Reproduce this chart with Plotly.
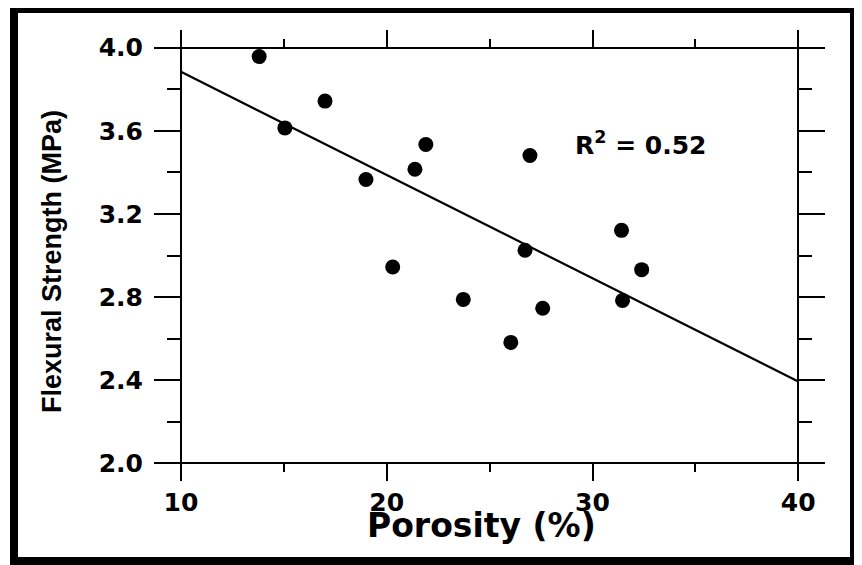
import plotly.graph_objects as go

# ---- data ----
porosity = [13.80, 15.05, 17.00, 18.99, 20.29, 21.37, 21.90, 23.72,
            26.03, 26.72, 26.96, 27.58, 31.41, 31.46, 32.39]
strength = [3.957, 3.614, 3.743, 3.366, 2.945, 3.415, 3.534, 2.789,
            2.582, 3.025, 3.481, 2.746, 3.121, 2.784, 2.932]
fit_x = [10, 40]
fit_y = [3.884, 2.394]
x_ticks = [10, 20, 30, 40]
x_minor = [15, 25, 35]
y_ticks = [2.0, 2.4, 2.8, 3.2, 3.6, 4.0]
y_minor = [2.2, 2.6, 3.0, 3.4, 3.8]
r2_text = "R<sup>2</sup> = 0.52"
x_title = "Porosity (%)"
y_title = "Flexural Strength (MPa)"

# ---- layout geometry (page has an 8px body margin) ----
OFF = 8
W, H = 862, 565
L = 155 - OFF
T = 30 - OFF
R = W - (825 - OFF)
B = H - (480 - OFF)
x_range = [8.737, 41.30]
y_range = [1.92, 4.085]

def xfrac(v):
    return (v - x_range[0]) / (x_range[1] - x_range[0])

def yfrac(v):
    return (v - y_range[0]) / (y_range[1] - y_range[0])

pw, ph = W - L - R, H - T - B

def px(X):  # page pixel -> paper fraction
    return (X - OFF - L) / pw

def py(Y):
    return (H - B - (Y - OFF)) / ph

tick_font = dict(family="DejaVu Sans", size=25, color="black", weight="bold")

fig = go.Figure()
fig.add_trace(go.Scatter(x=fit_x, y=fit_y, mode="lines",
                         line=dict(color="black", width=2.2),
                         showlegend=False, hoverinfo="skip"))
fig.add_trace(go.Scatter(x=porosity, y=strength, mode="markers",
                         marker=dict(color="black", size=15),
                         showlegend=False))
fig.add_trace(go.Scatter(x=[None], y=[None], xaxis="x2", yaxis="y2",
                         mode="markers", showlegend=False, hoverinfo="skip"))

common_x = dict(range=x_range, domain=[0, 1], anchor="free",
                showline=True, linecolor="black", linewidth=2,
                ticks="outside", tickmode="array", tickvals=x_ticks,
                ticklen=17, tickwidth=2, tickcolor="black",
                minor=dict(tickmode="array", tickvals=x_minor, ticks="outside",
                           ticklen=8, tickwidth=2, tickcolor="black", showgrid=False),
                showgrid=False, zeroline=False)
common_y = dict(range=y_range, domain=[0, 1], anchor="free",
                showline=True, linecolor="black", linewidth=2,
                ticks="outside", tickmode="array", tickvals=y_ticks,
                ticklen=26, tickwidth=2, tickcolor="black",
                minor=dict(tickmode="array", tickvals=y_minor, ticks="outside",
                           ticklen=13, tickwidth=2, tickcolor="black", showgrid=False),
                showgrid=False, zeroline=False)

fig.update_layout(
    width=W, height=H,
    margin=dict(l=L, r=R, t=T, b=B, pad=0),
    paper_bgcolor="white", plot_bgcolor="white",
    showlegend=False,
    xaxis=dict(**common_x, position=yfrac(2.0), side="bottom",
               tickfont=tick_font, ticklabelstandoff=0),
    xaxis2=dict(**common_x, position=yfrac(4.0), side="top",
                overlaying="x", showticklabels=False),
    yaxis=dict(**common_y, position=xfrac(10), side="left",
               tickformat=".1f", tickfont=tick_font, ticklabelstandoff=6),
    yaxis2=dict(**common_y, position=xfrac(40), side="right",
                overlaying="y", showticklabels=False),
    shapes=[dict(type="rect", xref="paper", yref="paper",
                 x0=px(14), x1=px(854), y0=py(561), y1=py(9),
                 line=dict(color="black", width=8), layer="above")],
    annotations=[
        dict(text=r2_text, x=29.05, y=3.538, xref="x", yref="y",
             xanchor="left", yanchor="middle", showarrow=False,
             font=dict(family="DejaVu Sans", size=25, color="black", weight="bold")),
        dict(text=x_title, x=px(481.5), y=py(525), xref="paper", yref="paper",
             xanchor="center", yanchor="middle", showarrow=False,
             font=dict(family="DejaVu Sans", size=33, color="black", weight="bold")),
        dict(text=y_title, x=px(52), y=py(262), xref="paper", yref="paper",
             xanchor="center", yanchor="middle", showarrow=False, textangle=-90,
             font=dict(family="Liberation Sans", size=27, color="black", weight="bold")),
    ],
)

fig.write_html("out.html")
